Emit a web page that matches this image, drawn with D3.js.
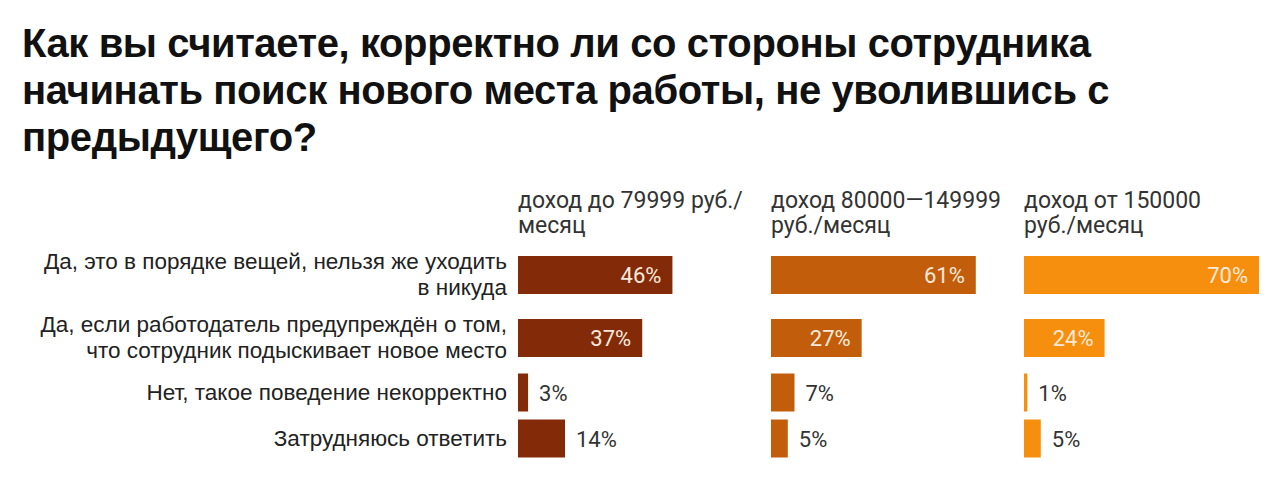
<html>
<head>
<meta charset="utf-8">
<title>Поиск работы</title>
<style>
  body { margin: 0; background: #fff; }
</style>
</head>
<body>
<script src="https://d3js.org/d3.v7.min.js"></script>
<script>
 // --- data ---
 var titleLines = ["Как вы считаете, корректно ли со стороны сотрудника",
                   "начинать поиск нового места работы, не уволившись с",
                   "предыдущего?"];
 var groups = ["доход до 79999 руб./\nмесяц",
               "доход 80000—149999\nруб./месяц",
               "доход от 150000\nруб./месяц"];
 var categories = ["Да, это в порядке вещей, нельзя же уходить\nв никуда",
                   "Да, если работодатель предупреждён о том,\nчто сотрудник подыскивает новое место",
                   "Нет, такое поведение некорректно",
                   "Затрудняюсь ответить"];
 var lowIncome = [46, 37, 3, 14];
 var midIncome = [61, 27, 7, 5];
 var highIncome = [70, 24, 1, 5];
 var series = [lowIncome, midIncome, highIncome];
 var colors = ["#832a09", "#c25d0b", "#f78f0e"];

 var width = 1280, height = 493;
 var barH = 38, lineStep = 17, rowPad = 29;

 var svg = d3.select("body").append("svg")
     .attr("width", width).attr("height", height);

 // title
 svg.append("g").selectAll("text").data(titleLines).enter().append("text")
    .attr("x", 22)
    .attr("y", function(d, i){ return 57 + i * 47; })
    .style("font-family", "'Liberation Sans', Arial, sans-serif")
    .style("font-weight", "bold")
    .style("font-size", "40px")
    .style("letter-spacing", "-0.4px")
    .style("fill", "#111")
    .text(function(d){ return d; });

 // row layout: rows with two-line labels get more room
 var centers = [];
 var rowTop = 243.5;
 categories.forEach(function(c){
     var h = lineStep * c.split("\n").length + rowPad;
     centers.push(rowTop + h / 2);
     rowTop += h;
 });
 var y = d3.scaleOrdinal().domain(categories).range(centers);

 var panel = d3.scaleBand().domain(groups).range([518, 518 + 3 * 253]);
 var x = d3.scaleLinear().domain([0, 70]).range([0, 235]);

 // category labels
 var labels = svg.append("g").selectAll("text").data(categories).enter().append("text")
    .attr("text-anchor", "end")
    .style("font-family", "'Liberation Sans', Arial, sans-serif")
    .style("font-size", "22.5px")
    .style("fill", "#222");
 labels.each(function(d){
     var lines = d.split("\n");
     var t = d3.select(this);
     var y0 = y(d) - (lines.length - 1) * 13 + 7;
     lines.forEach(function(l, i){
         t.append("tspan").attr("x", 507).attr("y", y0 + i * 26).text(l);
     });
 });

 // panels
 groups.forEach(function(g, gi){
     var px = panel(g);
     var gEl = svg.append("g").attr("transform", "translate(" + px + ",0)");

     var head = gEl.append("text")
        .style("font-family", "Roboto, sans-serif")
        .style("font-size", "23px")
        .style("fill", "#333");
     g.split("\n").forEach(function(l, i){
         head.append("tspan").attr("x", 0).attr("y", 208 + i * 25).text(l);
     });

     var rows = categories.map(function(c, i){ return {cat: c, v: series[gi][i]}; });

     gEl.selectAll("rect").data(rows).enter().append("rect")
        .attr("x", x(0))
        .attr("y", function(d){ return y(d.cat) - barH / 2; })
        .attr("width", function(d){ return x(d.v); })
        .attr("height", barH)
        .style("fill", colors[gi]);

     gEl.selectAll("text.val").data(rows).enter().append("text")
        .attr("class", "val")
        .attr("x", function(d){ return d.v >= 20 ? x(d.v) - 11 : x(d.v) + 11; })
        .attr("y", function(d){ return y(d.cat) + 8; })
        .attr("text-anchor", function(d){ return d.v >= 20 ? "end" : "start"; })
        .style("font-family", "Roboto, sans-serif")
        .style("font-size", "22px")
        .style("fill", function(d){ return d.v >= 20 ? "#fbeadc" : "#333"; })
        .text(function(d){ return d.v + "%"; });
 });
</script>
</body>
</html>
